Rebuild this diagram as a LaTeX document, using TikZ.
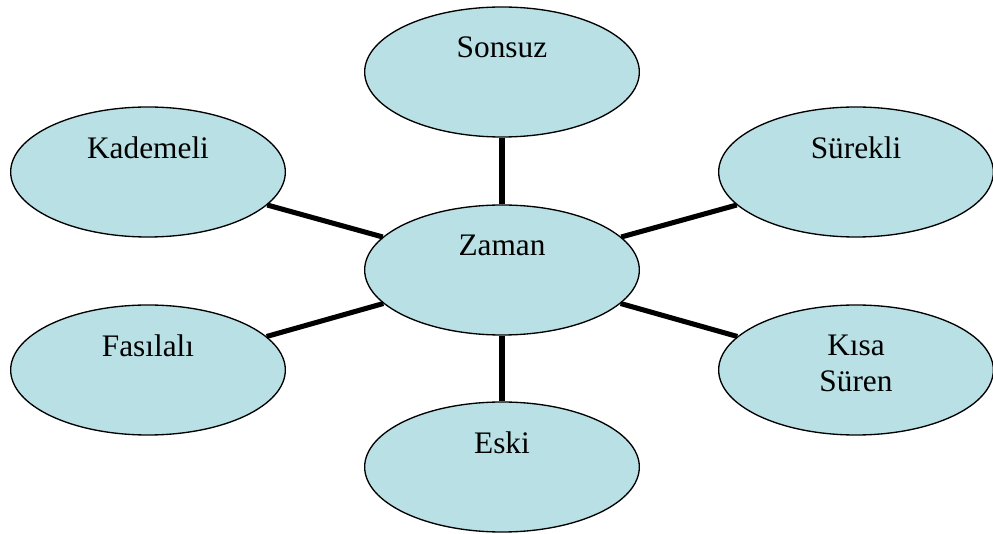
\documentclass[tikz,border=0pt]{standalone}
\usepackage{fontspec}
\setmainfont{Liberation Serif}
\usetikzlibrary{shapes.geometric}
\definecolor{bubblefill}{RGB}{185,224,228}
\tikzset{
  every node/.style={font=\fontsize{23.5}{27}\selectfont},
  bubble/.style={ellipse, draw=black, fill=bubblefill, line width=1pt,
    inner sep=0pt, minimum width=206pt, minimum height=97.5pt},
  word/.style={anchor=north, align=center, inner sep=0pt},
  spoke/.style={line width=3.8pt, line cap=butt}
}

\begin{document}
\begin{tikzpicture}[x=0.75pt,y=-0.75pt]
  \useasboundingbox (0,0) rectangle (993,534);

  \node[bubble] (zaman) at (502,270) {};
  \node[word] (zaman-t) at ([yshift=26.6pt]zaman.center) {Zaman};

  \foreach \name/\x/\y/\txt in {sonsuz/502/72/Sonsuz, kademeli/148/172/Kademeli,
      surekli/856/172/S\"urekli, fasilali/148/370/Fas\i lal\i,
      kisa/856/370/{K\i sa\\S\"uren}, eski/502/467/Eski} {
    \node[bubble] (\name) at (\x,\y) {};
    \node[word] (\name-t) at ([yshift=26.6pt]\name.center) {\txt};
    \draw[spoke] (zaman) -- (\name);
  }
\end{tikzpicture}
\end{document}
